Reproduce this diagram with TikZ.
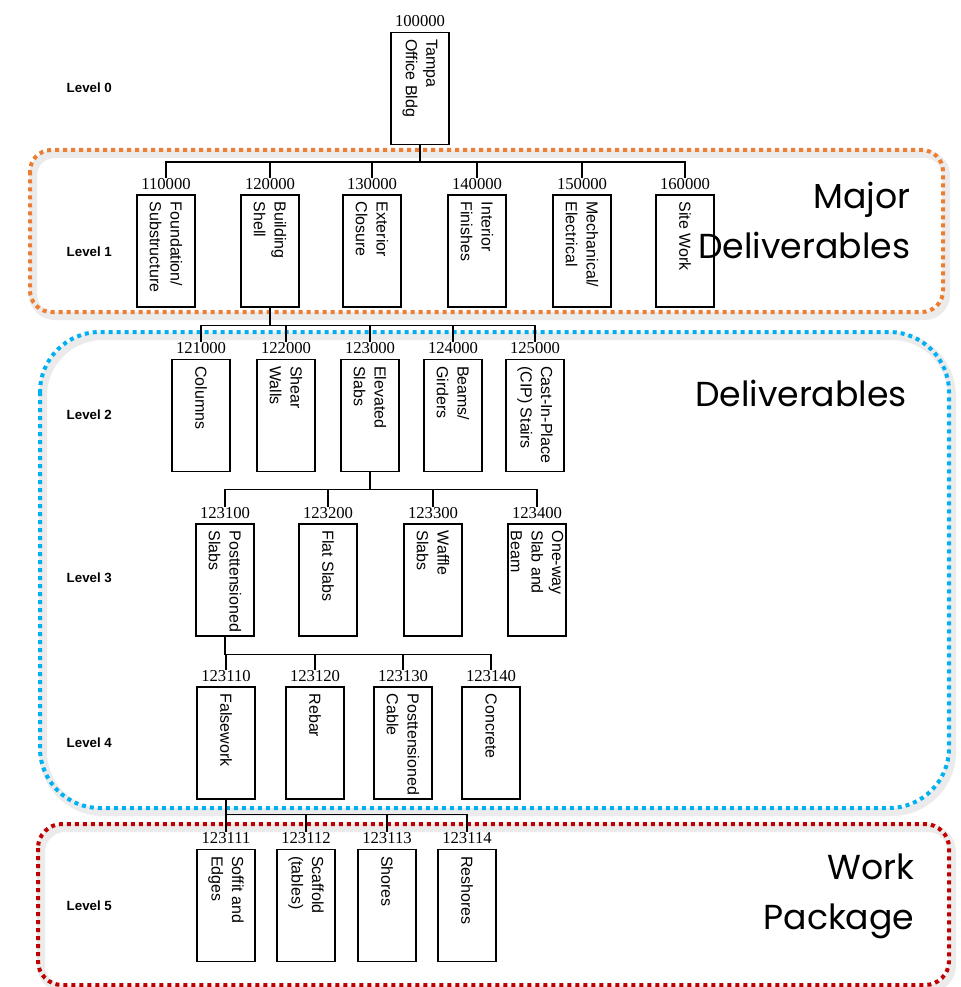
\documentclass[tikz,border=0pt]{standalone}
\usepackage{fontspec}
\usepackage{graphicx}
\setmainfont{Liberation Serif}
\newfontfamily\boxfont{Liberation Sans}
\newfontfamily\bigfont{Poppins}
\usetikzlibrary{positioning}
\definecolor{majorc}{RGB}{237,125,49}
\definecolor{delivc}{RGB}{0,176,240}
\definecolor{workc}{RGB}{192,0,0}
\newcommand{\wbstext}[1]{\rotatebox{-90}{\kern3pt\parbox{77pt}{\boxfont\fontsize{12}{15.5}\selectfont\raggedright #1}}}
\tikzset{
  wbsbox/.style={draw,line width=1pt,minimum width=43.5pt,minimum height=84pt,inner sep=0pt},
  wbsnum/.style={font=\fontsize{12.5}{14}\selectfont,inner sep=0pt},
  levellabel/.style={anchor=west,font=\boxfont\bfseries\fontsize{10}{12}\selectfont},
  bigtitle/.style={font=\bigfont\fontsize{26}{37.5}\selectfont,align=right},
  frame/.style={line width=3pt,dash pattern=on 3pt off 3pt},
  frameshadow/.style={line width=6pt,black,opacity=0.08},
  tree/.style={line width=1pt}
}

\begin{document}
\begin{tikzpicture}[x=0.75pt,y=-0.75pt]
    \useasboundingbox (0,0) rectangle (960,987);

    % level labels
    \foreach \i/\y in {0/88,1/252,2/415,3/578,4/743,5/906}
        \node[levellabel] (lvl\i) at (62,\y) {Level \i};

    % grouping frames
    \draw[frameshadow,rounded corners=16pt] (33,154) rectangle (946,316);
    \draw[frameshadow,rounded corners=45pt] (43,336) rectangle (952,812);
    \draw[frameshadow,rounded corners=18pt] (41,828) rectangle (952,989);
    \draw[frame,majorc,rounded corners=16pt] (30,150) rectangle (943,312);
    \draw[frame,delivc,rounded corners=45pt] (40,332) rectangle (949,808);
    \draw[frame,workc,rounded corners=18pt] (38,824) rectangle (949,985);

    \node[bigtitle,anchor=east] (tmajor) at (915,220) {Major\\Deliverables};
    \node[bigtitle] (tdeliv) at (801,393) {Deliverables};
    \node[bigtitle,anchor=east] (twork) at (919,896) {Work\\Package};

    % level 0
    \node[wbsbox] (b100000) at (420,88.5) {\wbstext{Tampa\\Office Bldg}};

    % level 1
    \node[wbsbox] (b110000) at (166,251) {\wbstext{Foundation/\\Substructure}};
    \node[wbsbox] (b120000) at (270,251) {\wbstext{Building\\Shell}};
    \node[wbsbox] (b130000) at (372,251) {\wbstext{Exterior\\Closure}};
    \node[wbsbox] (b140000) at (477,251) {\wbstext{Interior\\Finishes}};
    \node[wbsbox] (b150000) at (582,251) {\wbstext{Mechanical/\\Electrical}};
    \node[wbsbox] (b160000) at (685,251) {\wbstext{Site Work}};

    % level 2
    \node[wbsbox] (b121000) at (201,415.5) {\wbstext{Columns}};
    \node[wbsbox] (b122000) at (286,415.5) {\wbstext{Shear\\Walls}};
    \node[wbsbox] (b123000) at (370,415.5) {\wbstext{Elevated\\Slabs}};
    \node[wbsbox] (b124000) at (453,415.5) {\wbstext{Beams/\\Girders}};
    \node[wbsbox] (b125000) at (535,415.5) {\wbstext{Cast-In-Place\\(CIP) Stairs}};

    % level 3
    \node[wbsbox] (b123100) at (225,580) {\wbstext{Posttensioned\\Slabs}};
    \node[wbsbox] (b123200) at (328,580) {\wbstext{Flat Slabs}};
    \node[wbsbox] (b123300) at (433,580) {\wbstext{Waffle\\Slabs}};
    \node[wbsbox] (b123400) at (537,580) {\wbstext{One-way\\Slab and\\Beam}};

    % level 4
    \node[wbsbox] (b123110) at (226,743) {\wbstext{Falsework}};
    \node[wbsbox] (b123120) at (315,743) {\wbstext{Rebar}};
    \node[wbsbox] (b123130) at (403,743) {\wbstext{Posttensioned\\Cable}};
    \node[wbsbox] (b123140) at (491,743) {\wbstext{Concrete}};

    % level 5
    \node[wbsbox] (b123111) at (226,905.5) {\wbstext{Soffit and\\Edges}};
    \node[wbsbox] (b123112) at (306,905.5) {\wbstext{Scaffold\\(tables)}};
    \node[wbsbox] (b123113) at (387,905.5) {\wbstext{Shores}};
    \node[wbsbox] (b123114) at (467,905.5) {\wbstext{Reshores}};

    % codes above the boxes
    \foreach \c in {100000,110000,120000,130000,140000,150000,160000,
                    121000,122000,123000,124000,125000,
                    123100,123200,123300,123400,
                    123110,123120,123130,123140,
                    123111,123112,123113,123114}
        \node[wbsnum,above=3.5pt of b\c] (n\c) {\c};

    % tree connectors
    \draw[tree] (b100000.south) -- ++(0,17) coordinate (bus1);
    \foreach \c in {110000,120000,130000,140000,150000,160000}
        \draw[tree] (bus1) -| (n\c.north);
    \draw[tree] (b120000.south) -- ++(0,18) coordinate (bus2);
    \foreach \c in {121000,122000,123000,124000,125000}
        \draw[tree] (bus2) -| (n\c.north);
    \draw[tree] (b123000.south) -- ++(0,17) coordinate (bus3);
    \foreach \c in {123100,123200,123300,123400}
        \draw[tree] (bus3) -| (n\c.north);
    \draw[tree] (b123100.south) -- ++(0,18) coordinate (bus4);
    \foreach \c in {123110,123120,123130,123140}
        \draw[tree] (bus4) -| (n\c.north);
    \draw[tree] (b123110.south) -- ++(0,15) coordinate (bus5);
    \foreach \c in {123111,123112,123113,123114}
        \draw[tree] (bus5) -| (n\c.north);
\end{tikzpicture}
\end{document}
